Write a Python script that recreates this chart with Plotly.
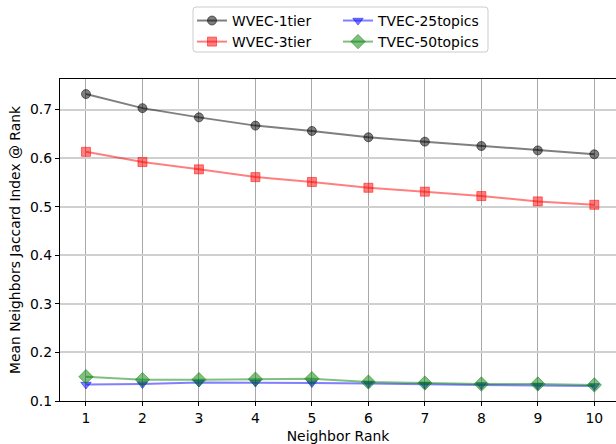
import plotly.graph_objects as go

ranks = [1, 2, 3, 4, 5, 6, 7, 8, 9, 10]
wvec_1tier = [0.732, 0.703, 0.684, 0.667, 0.656, 0.643, 0.634, 0.625, 0.616, 0.608]
wvec_3tier = [0.613, 0.592, 0.577, 0.561, 0.551, 0.539, 0.531, 0.522, 0.511, 0.504]
tvec_25 = [0.134, 0.135, 0.138, 0.138, 0.137, 0.136, 0.134, 0.133, 0.132, 0.131]
tvec_50 = [0.150, 0.144, 0.144, 0.145, 0.146, 0.139, 0.137, 0.135, 0.135, 0.133]
y_ticks = [0.1, 0.2, 0.3, 0.4, 0.5, 0.6, 0.7]

FONT = "DejaVu Sans"
FS = 13.9

series = [
    ("WVEC-1tier", wvec_1tier, "rgba(0,0,0,0.5)", "circle", "legend"),
    ("WVEC-3tier", wvec_3tier, "rgba(255,0,0,0.5)", "square", "legend"),
    ("TVEC-25topics", tvec_25, "rgba(0,0,255,0.5)", "triangle-down", "legend2"),
    ("TVEC-50topics", tvec_50, "rgba(0,128,0,0.5)", "diamond", "legend2"),
]

fig = go.Figure()
for name, vals, col, sym, lg in series:
    fig.add_trace(go.Scatter(
        x=ranks, y=vals, name=name, mode="lines+markers", legend=lg,
        line=dict(color=col, width=2),
        marker=dict(symbol=sym, size=9 if sym != "diamond" else 11, color=col,
                    line=dict(color=col, width=1)),
    ))

# plot area in pixels: x 60..616, y 79..401
def px(x):
    return (x - 60) / 556.0

def py(y):
    return (401 - y) / 322.0

x0, x1, y0, y1 = px(193), px(488), py(7), py(52)
rx, ry = 3 / 556.0, 3 / 322.0
box_path = (
    f"M {x0+rx},{y0} L {x1-rx},{y0} Q {x1},{y0} {x1},{y0-ry} "
    f"L {x1},{y1+ry} Q {x1},{y1} {x1-rx},{y1} "
    f"L {x0+rx},{y1} Q {x0},{y1} {x0},{y1+ry} "
    f"L {x0},{y0-ry} Q {x0},{y0} {x0+rx},{y0} Z"
)

leg_common = dict(
    orientation="v", xanchor="left", yanchor="top",
    borderwidth=0, bgcolor="rgba(0,0,0,0)",
    font=dict(family=FONT, size=FS), tracegroupgap=0,
)

fig.update_layout(
    width=616, height=444,
    margin=dict(l=60, r=0, t=79, b=43),
    paper_bgcolor="white", plot_bgcolor="white",
    font=dict(family=FONT, size=FS, color="black"),
    showlegend=True,
    legend=dict(x=px(192), y=py(5), **leg_common),
    legend2=dict(x=px(338), y=py(5), **leg_common),
    shapes=[dict(type="path", xref="paper", yref="paper", path=box_path,
                 line=dict(color="#cccccc", width=1), fillcolor="rgba(0,0,0,0)")],
    xaxis=dict(
        range=[0.54, 10.384], tickmode="array", tickvals=ranks,
        ticks="outside", ticklen=4, tickcolor="black",
        showline=True, linecolor="black", linewidth=1.2, mirror=True,
        showgrid=True, gridcolor="#a8a8a8", gridwidth=1,
        zeroline=False,
        title=dict(text="Neighbor Rank", font=dict(family=FONT, size=FS), standoff=7),
    ),
    yaxis=dict(
        range=[0.1, 0.763], tickmode="array", tickvals=y_ticks,
        ticktext=[f"{v:.1f}" for v in y_ticks],
        ticks="outside", ticklen=4, tickcolor="black",
        showline=True, linecolor="black", linewidth=1.2,
        showgrid=True, gridcolor="#d0d0d0", gridwidth=1.5,
        zeroline=False,
        title=dict(text="Mean Neighbors Jaccard Index @ Rank", font=dict(family=FONT, size=FS), standoff=6),
    ),
)

fig.write_html(
    "out.html",
    config={"displayModeBar": False},
    post_script="document.body.style.margin='0';document.body.style.overflow='hidden';",
)
